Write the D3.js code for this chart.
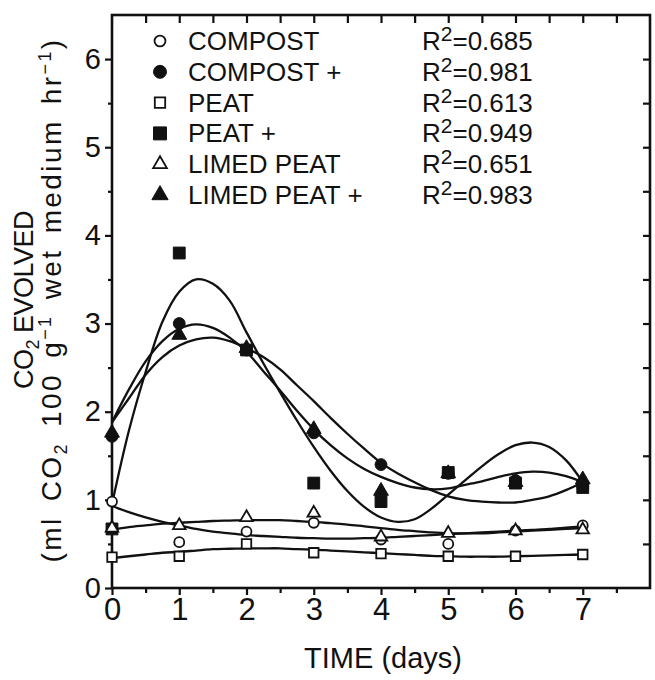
<!DOCTYPE html>
<html>
<head>
<meta charset="utf-8">
<script src="https://cdn.jsdelivr.net/npm/d3@7"></script>
<style>
  body { margin: 0; background: #fff; }
  svg { display: block; }
  text { font-family: "Liberation Sans", Arial, sans-serif; fill: #111; }
</style>
</head>
<body>
<svg id="chart" width="655" height="680"></svg>
<script>
// measured points, one value per day
var days = [0, 1, 2, 3, 4, 5, 6, 7];
var compost       = [0.98, 0.52, 0.64, 0.74, 0.55, 0.50, 0.65, 0.71];
var compostPlus   = [1.72, 3.00, 2.70, 1.76, 1.40, 1.30, 1.22, 1.15];
var peat          = [0.35, 0.36, 0.50, 0.40, 0.39, 0.36, 0.36, 0.38];
var peatPlus      = [0.67, 3.80, 2.70, 1.19, 0.98, 1.31, 1.19, 1.14];
var limedPeat     = [0.68, 0.71, 0.80, 0.85, 0.58, 0.62, 0.65, 0.66];
var limedPeatPlus = [1.76, 2.87, 2.72, 1.80, 1.10, 1.30, 1.20, 1.23];

// fitted curves, every quarter day
var fitDays = [0, 0.25, 0.5, 0.75, 1, 1.25, 1.5, 1.75, 2, 2.25, 2.5, 2.75, 3, 3.25, 3.5,
               3.75, 4, 4.25, 4.5, 4.75, 5, 5.25, 5.5, 5.75, 6, 6.25, 6.5, 6.75, 7];
var compostFit       = [0.93, 0.86, 0.80, 0.75, 0.71, 0.67, 0.64, 0.62, 0.60, 0.59, 0.58, 0.57, 0.565, 0.56, 0.56,
                        0.565, 0.57, 0.58, 0.59, 0.60, 0.61, 0.62, 0.63, 0.64, 0.65, 0.66, 0.67, 0.685, 0.70];
var compostPlusFit   = [1.88, 2.25, 2.57, 2.80, 2.94, 2.99, 2.95, 2.84, 2.68, 2.46, 2.24, 2.01, 1.80, 1.62, 1.47,
                        1.35, 1.26, 1.19, 1.14, 1.12, 1.13, 1.17, 1.21, 1.26, 1.30, 1.32, 1.31, 1.27, 1.20];
var peatFit          = [0.34, 0.36, 0.38, 0.40, 0.41, 0.425, 0.44, 0.445, 0.45, 0.45, 0.45, 0.44, 0.435, 0.425, 0.415,
                        0.405, 0.395, 0.385, 0.375, 0.365, 0.36, 0.355, 0.355, 0.355, 0.36, 0.365, 0.37, 0.375, 0.38];
var peatPlusFit      = [0.95, 1.78, 2.45, 3.02, 3.36, 3.50, 3.45, 3.26, 2.90, 2.55, 2.22, 1.90, 1.60, 1.33, 1.10,
                        0.92, 0.80, 0.75, 0.78, 0.90, 1.06, 1.22, 1.38, 1.52, 1.62, 1.65, 1.60, 1.45, 1.20];
var limedPeatFit     = [0.66, 0.69, 0.71, 0.73, 0.74, 0.75, 0.76, 0.765, 0.77, 0.77, 0.77, 0.76, 0.75, 0.735, 0.72,
                        0.70, 0.68, 0.66, 0.645, 0.63, 0.62, 0.62, 0.62, 0.63, 0.64, 0.65, 0.66, 0.67, 0.68];
var limedPeatPlusFit = [1.88, 2.15, 2.42, 2.62, 2.75, 2.82, 2.84, 2.80, 2.72, 2.62, 2.48, 2.30, 2.12, 1.93, 1.75,
                        1.58, 1.42, 1.30, 1.20, 1.11, 1.04, 1.00, 0.98, 0.97, 0.97, 1.00, 1.04, 1.11, 1.20];

var seriesNames = ["COMPOST", "COMPOST +", "PEAT", "PEAT +", "LIMED PEAT", "LIMED PEAT +"];
var rSquared = ["0.685", "0.981", "0.613", "0.949", "0.651", "0.983"];

var xTicks = [0, 1, 2, 3, 4, 5, 6, 7];
var xMinorTicks = [0.5, 1.5, 2.5, 3.5, 4.5, 5.5, 6.5, 7.5];
var yTicks = [0, 1, 2, 3, 4, 5, 6];
var yMinorTicks = [0.5, 1.5, 2.5, 3.5, 4.5, 5.5];

var series = [
  { name: seriesNames[0], r2: rSquared[0], values: compost,       fit: compostFit,       shape: d3.symbolCircle,   filled: false },
  { name: seriesNames[1], r2: rSquared[1], values: compostPlus,   fit: compostPlusFit,   shape: d3.symbolCircle,   filled: true },
  { name: seriesNames[2], r2: rSquared[2], values: peat,          fit: peatFit,          shape: d3.symbolSquare,   filled: false },
  { name: seriesNames[3], r2: rSquared[3], values: peatPlus,      fit: peatPlusFit,      shape: d3.symbolSquare,   filled: true },
  { name: seriesNames[4], r2: rSquared[4], values: limedPeat,     fit: limedPeatFit,     shape: d3.symbolTriangle, filled: false },
  { name: seriesNames[5], r2: rSquared[5], values: limedPeatPlus, fit: limedPeatPlusFit, shape: d3.symbolTriangle, filled: true }
];

var ink = "#111";
var svg = d3.select("#chart");

var x = d3.scaleLinear().domain([0, 8]).range([112, 650]);
var y = d3.scaleLinear().domain([0, 6.5]).range([588, 15]);

function symbolSize(d) {
  if (d.shape === d3.symbolCircle) return d.filled ? 110 : 78;
  if (d.shape === d3.symbolSquare) return d.filled ? 140 : 90;
  return d.filled ? 95 : 68;
}

// axes
function styleAxis(g) {
  g.select(".domain").remove();
  g.selectAll(".tick line").attr("stroke", ink).attr("stroke-width", 2.2);
}

svg.append("g")
  .attr("transform", "translate(0,588)")
  .call(d3.axisBottom(x).tickValues(xTicks).tickSize(7).tickPadding(3).tickFormat(d3.format("d")))
  .call(styleAxis)
  .selectAll("text").attr("font-size", 31).attr("fill", ink);

svg.append("g")
  .attr("transform", "translate(0,588)")
  .call(d3.axisBottom(x).tickValues(xMinorTicks).tickSize(5).tickFormat(""))
  .call(styleAxis);

svg.append("g")
  .attr("transform", "translate(112,0)")
  .call(d3.axisLeft(y).tickValues(yTicks).tickSize(7).tickPadding(4).tickFormat(d3.format("d")))
  .call(styleAxis)
  .selectAll("text").attr("font-size", 29).attr("fill", ink);

svg.append("g")
  .attr("transform", "translate(112,0)")
  .call(d3.axisLeft(y).tickValues(yMinorTicks).tickSize(4).tickFormat(""))
  .call(styleAxis);

// inward ticks on top and right
svg.append("g")
  .attr("transform", "translate(0,15)")
  .call(d3.axisBottom(x).tickValues(xMinorTicks.concat(xTicks.slice(1))).tickSize(8).tickFormat(""))
  .call(styleAxis);

svg.append("g")
  .attr("transform", "translate(650,0)")
  .call(d3.axisLeft(y).tickValues(yMinorTicks.concat(yTicks.slice(1))).tickSize(7).tickFormat(""))
  .call(styleAxis);

svg.append("rect")
  .attr("x", x(0)).attr("y", y(6.5))
  .attr("width", x(8) - x(0)).attr("height", y(0) - y(6.5))
  .attr("fill", "none").attr("stroke", ink).attr("stroke-width", 2.6);

// fitted curves
var line = d3.line()
  .x(function(d) { return x(d[0]); })
  .y(function(d) { return y(d[1]); })
  .curve(d3.curveCatmullRom.alpha(0.5));

svg.append("g").selectAll("path")
  .data(series)
  .enter().append("path")
    .attr("d", function(s) { return line(fitDays.map(function(t, i) { return [t, s.fit[i]]; })); })
    .attr("fill", "none")
    .attr("stroke", ink)
    .attr("stroke-width", 2.3);

// points
var pointGroups = svg.append("g").selectAll("g")
  .data(series)
  .enter().append("g");

pointGroups.selectAll("path")
  .data(function(s) { return s.values.map(function(v, i) { return { day: days[i], value: v, s: s }; }); })
  .enter().append("path")
    .attr("transform", function(d) { return "translate(" + x(d.day) + "," + y(d.value) + ")"; })
    .attr("d", function(d) { return d3.symbol().type(d.s.shape).size(symbolSize(d.s))(); })
    .attr("fill", function(d) { return d.s.filled ? ink : "#fff"; })
    .attr("stroke", ink)
    .attr("stroke-width", function(d) { return d.s.filled ? 1 : 1.8; });

// legend
var legend = svg.append("g");
var rowY = function(i) { return 50 + i * 30.8; };

legend.selectAll("path")
  .data(series)
  .enter().append("path")
    .attr("transform", function(d, i) { return "translate(160," + (rowY(i) - 9) + ")"; })
    .attr("d", function(d) { return d3.symbol().type(d.shape).size(symbolSize(d) * 1.2)(); })
    .attr("fill", function(d) { return d.filled ? ink : "#fff"; })
    .attr("stroke", ink)
    .attr("stroke-width", function(d) { return d.filled ? 1 : 1.8; });

legend.selectAll("text.name")
  .data(series)
  .enter().append("text")
    .attr("class", "name")
    .attr("x", 188)
    .attr("y", function(d, i) { return rowY(i); })
    .attr("font-size", 26)
    .text(function(d) { return d.name; });

var r2Text = legend.selectAll("text.r2")
  .data(series)
  .enter().append("text")
    .attr("class", "r2")
    .attr("x", 422)
    .attr("y", function(d, i) { return rowY(i); })
    .attr("font-size", 26);
r2Text.append("tspan").text("R");
r2Text.append("tspan").attr("dy", -9).attr("font-size", 21).text("2");
r2Text.append("tspan").attr("dy", 9).text(function(d) { return "=" + d.r2; });

// axis titles
svg.append("text")
  .attr("x", 383).attr("y", 668)
  .attr("text-anchor", "middle")
  .attr("font-size", 29)
  .text("TIME (days)");

var yTitle1 = svg.append("text")
  .attr("transform", "translate(33,300) rotate(-90)")
  .attr("text-anchor", "middle")
  .attr("font-size", 27)
  .attr("letter-spacing", -0.5);
yTitle1.append("tspan").text("CO");
yTitle1.append("tspan").attr("dy", 6).attr("font-size", 18).text("2");
yTitle1.append("tspan").attr("dy", -6).text(" EVOLVED");

var yTitle2 = svg.append("text")
  .attr("transform", "translate(61,300) rotate(-90)")
  .attr("text-anchor", "middle")
  .attr("font-size", 28)
  .attr("letter-spacing", 2.4)
  .attr("word-spacing", 5);
yTitle2.append("tspan").text("(ml CO");
yTitle2.append("tspan").attr("dy", 6).attr("font-size", 18).text("2");
yTitle2.append("tspan").attr("dy", -6).text(" 100 g");
yTitle2.append("tspan").attr("dy", -10).attr("font-size", 18).text("\u22121");
yTitle2.append("tspan").attr("dy", 10).text(" wet medium hr");
yTitle2.append("tspan").attr("dy", -10).attr("font-size", 18).text("\u22121");
yTitle2.append("tspan").attr("dy", 10).text(")");
</script>
</body>
</html>
